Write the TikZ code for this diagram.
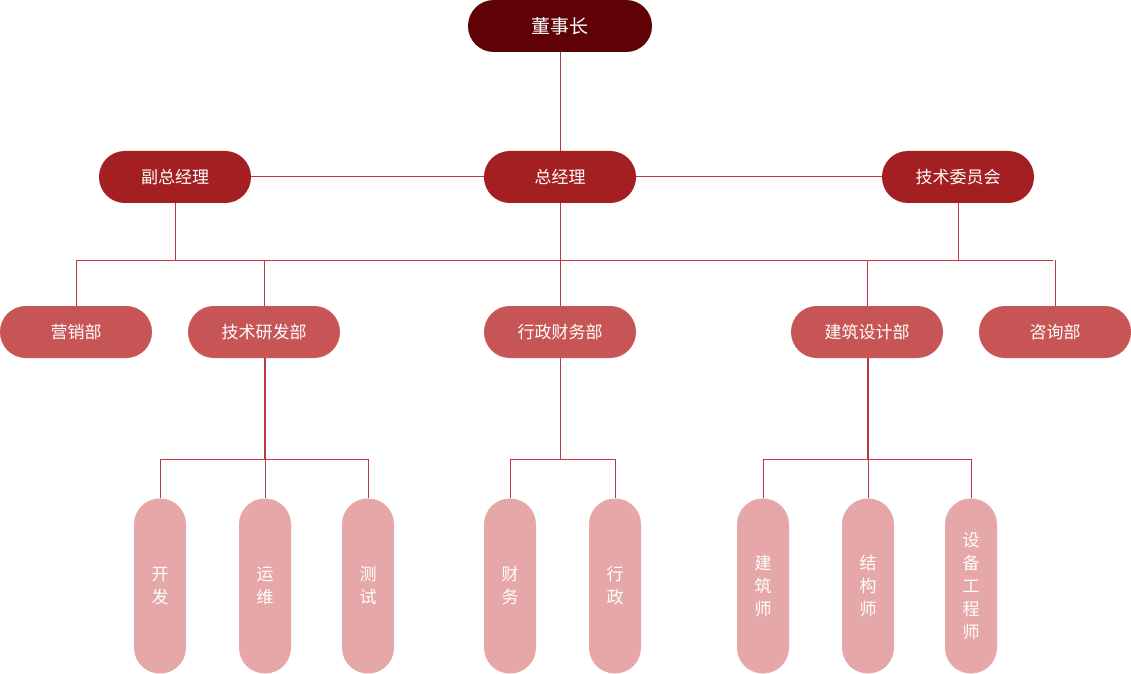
\documentclass[tikz,border=0pt]{standalone}
\usepackage{fontspec}
\setmainfont{Noto Sans CJK SC}
\usetikzlibrary{calc,positioning}
\definecolor{lv1}{HTML}{5E0205}
\definecolor{lv2}{HTML}{A41F22}
\definecolor{lv3}{HTML}{C85555}
\definecolor{lv4}{HTML}{E5A7A7}
\definecolor{ln}{HTML}{B8393E}
\begin{document}
\begin{tikzpicture}[x=0.5pt,y=-0.5pt]
\tikzstyle{pill}=[rounded corners=12.9pt, text=white, inner sep=0pt, font=\fontsize{8.5}{10}\selectfont]
\tikzstyle{top}=[pill, fill=lv1, minimum width=92pt, minimum height=26pt, font=\fontsize{9.5}{10}\selectfont]
\tikzstyle{mgr}=[pill, fill=lv2, minimum width=76pt, minimum height=26pt]
\tikzstyle{dep}=[pill, fill=lv3, minimum width=76pt, minimum height=26pt]
\tikzstyle{job}=[pill, fill=lv4, minimum width=26pt, minimum height=87.5pt, align=center, font=\fontsize{8.5}{11.5}\selectfont]
\tikzstyle{wire}=[draw=ln, line width=0.5pt]
\useasboundingbox (0,0) rectangle (1131,674);

\node[top] (boss) at (560,26) {董事长};
\node[mgr] (vgm) at (175,177) {副总经理};
\node[mgr] (gm) at (560,177) {总经理};
\node[mgr] (tc) at (958,177) {技术委员会};
\node[dep] (mkt) at (76,332) {营销部};
\node[dep] (rd) at (264,332) {技术研发部};
\node[dep] (adm) at (560,332) {行政财务部};
\node[dep] (arc) at (867,332) {建筑设计部};
\node[dep] (con) at (1055,332) {咨询部};
\foreach \n/\x/\t in {dev/160/开\\发, ops/265/运\\维, tst/368/测\\试, fin/510/财\\务, ad/615/行\\政, ar/763/建\\筑\\师, st/868/结\\构\\师, eq/971/设\\备\\工\\程\\师}{
  \node[job] (\n) at (\x,586) {\t};
}

\coordinate (busL) at (76,260);
\coordinate (busR) at (1053,260);
\draw[wire] (boss) -- (gm);
\draw[wire] (vgm) -- (gm) -- (tc);
\draw[wire] (busL) -- (busR);
\draw[wire] (vgm.south) -- (vgm.south |- busL);
\draw[wire] (tc.south) -- (tc.south |- busL);
\draw[wire] (gm) -- (adm);
\foreach \d in {mkt,rd,arc,con}{\draw[wire] (\d.north) -- (\d.north |- busL);}
\foreach \d/\a/\b in {rd/dev/tst, adm/fin/ad, arc/ar/eq}{
  \draw[wire] (\d.south) -- ($(\d.south)+(0,101)$);
  \draw[wire] (\a.north) |- ($(\d.south)+(0,101)$) -| (\b.north);
}
\draw[wire] (ops.north) -- (ops.north |- rd.south);
\draw[wire] (st.north) -- (st.north |- arc.south);
\end{tikzpicture}
\end{document}
